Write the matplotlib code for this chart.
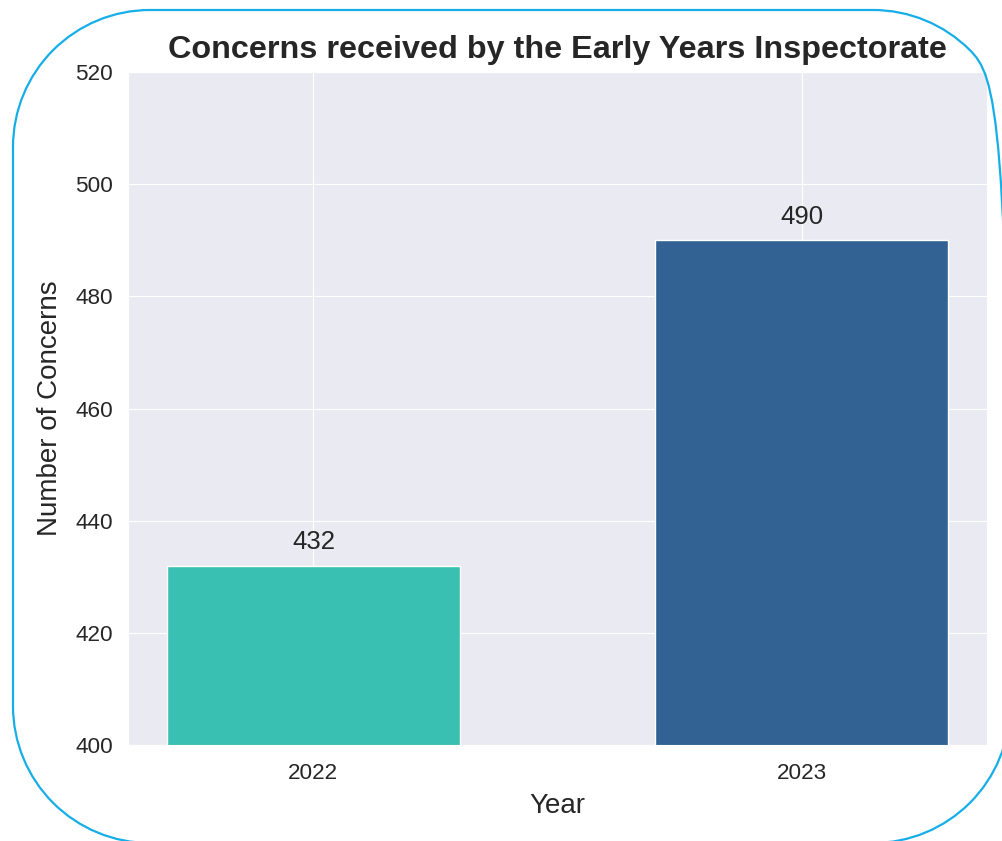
# Bar chart of concerns received by the Early Years Inspectorate

import numpy as np
import matplotlib
matplotlib.use("Agg")
import matplotlib.pyplot as plt
import seaborn as sns
from matplotlib.path import Path
from matplotlib.patches import PathPatch

years = ["2022", "2023"]
concerns = [432, 490]
bar_colors = ["#3abfb3", "#316293"]
y_ticks = [400, 420, 440, 460, 480, 500, 520]

sns.set_style("darkgrid")
plt.rcParams['font.family'] = ['Liberation Sans', 'DejaVu Sans']
text_color = '#262626'

fig = plt.figure(figsize=(10.02, 8.41), dpi=100)
ax = fig.add_axes([0.1277, 0.1141, 0.8573, 0.8003])

bars = ax.bar(years, concerns, width=0.6, color=bar_colors)
ax.bar_label(bars, labels=[str(v) for v in concerns], padding=8,
             fontsize=18.5, color=text_color)

ax.set_ylim(400, 520)
ax.set_yticks(y_ticks)
ax.tick_params(axis='both', labelsize=16.2, colors=text_color)
ax.tick_params(axis='y', pad=7.3)
ax.tick_params(axis='x', pad=9.3)
ax.set_xlabel("Year", fontsize=20, color=text_color, labelpad=6.3)
ax.set_ylabel("Number of Concerns", fontsize=20, color=text_color, labelpad=8.5)
ax.set_title("Concerns received by the Early Years Inspectorate",
             fontsize=23.3, fontweight='bold', color=text_color, pad=10)


# rounded frame around the whole figure, in pixel coordinates
def rounded_rect(l, b, rgt, t, r):
    verts, codes = [], []
    corners = [((rgt - r, b + r), -90, 0), ((rgt - r, t - r), 0, 90),
               ((l + r, t - r), 90, 180), ((l + r, b + r), 180, 270)]
    for (cx, cy), a1, a2 in corners:
        arc = Path.arc(a1, a2)
        v = arc.vertices * r + np.array([cx, cy])
        c = arc.codes.copy()
        c[0] = Path.MOVETO if not codes else Path.LINETO
        verts.extend(v.tolist())
        codes.extend(c.tolist())
    verts.append(verts[0])
    codes.append(Path.LINETO)
    return Path(verts, codes)


frame = PathPatch(rounded_rect(13, -2, 1010, 831, 137), transform=None,
                  fill=False, edgecolor='#16aee8', linewidth=1.6, clip_on=False)
fig.add_artist(frame)

fig.savefig("out.png", dpi=100)
